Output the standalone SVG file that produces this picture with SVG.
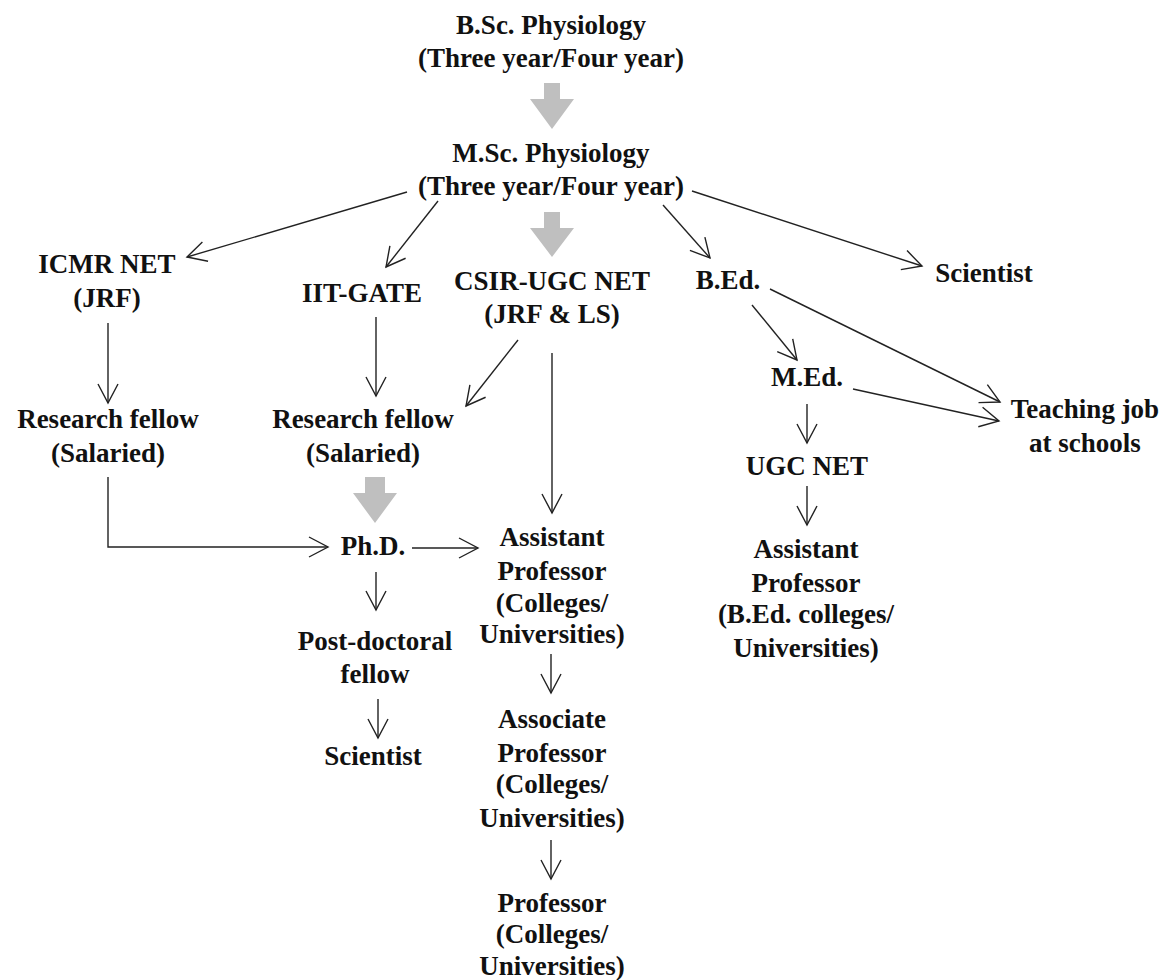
<svg xmlns="http://www.w3.org/2000/svg" width="1170" height="980" viewBox="0 0 1170 980">
<style>
text{font-family:"Liberation Serif","Times New Roman",serif;font-weight:bold;font-size:27px;fill:#111;text-anchor:middle}
.c{fill:none;stroke:#222;stroke-width:1.4}
.g{fill:#bfbfbf;stroke:none}
</style>
<defs>
<marker id="ah" markerUnits="userSpaceOnUse" markerWidth="24" markerHeight="24" viewBox="-22 -12 24 24" refX="0" refY="0" orient="auto" overflow="visible">
<path d="M-19,-10 L0,0 L-19,10" fill="none" stroke="#222" stroke-width="1.4"/>
</marker>
</defs>
<rect width="1170" height="980" fill="#fff"/>
<g id="bigarrows">
<polygon class="g" points="544,83 560,83 560,99 574,99 552,129 530,99 544,99"/>
<polygon class="g" points="544,212 560,212 560,228 574,228 552,257 530,228 544,228"/>
<polygon class="g" points="365,477 385,477 385,493 397,493 375,523 353,493 365,493"/>
</g>
<g id="connectors">
<line class="c" x1="407" y1="192" x2="187" y2="257" marker-end="url(#ah)"/>
<line class="c" x1="438" y1="201" x2="386" y2="267" marker-end="url(#ah)"/>
<line class="c" x1="663" y1="205" x2="710" y2="258" marker-end="url(#ah)"/>
<line class="c" x1="692" y1="191" x2="922" y2="266" marker-end="url(#ah)"/>
<line class="c" x1="108" y1="323" x2="108" y2="403" marker-end="url(#ah)"/>
<line class="c" x1="376" y1="317" x2="376" y2="396" marker-end="url(#ah)"/>
<line class="c" x1="518" y1="340" x2="466" y2="406" marker-end="url(#ah)"/>
<line class="c" x1="552" y1="353" x2="552" y2="513" marker-end="url(#ah)"/>
<line class="c" x1="770" y1="289" x2="1000" y2="402" marker-end="url(#ah)"/>
<line class="c" x1="752" y1="305" x2="797" y2="360" marker-end="url(#ah)"/>
<line class="c" x1="853" y1="389" x2="999" y2="421" marker-end="url(#ah)"/>
<line class="c" x1="807" y1="404" x2="807" y2="443" marker-end="url(#ah)"/>
<line class="c" x1="807" y1="486" x2="807" y2="525" marker-end="url(#ah)"/>
<polyline class="c" points="108,477 108,547 328,547" marker-end="url(#ah)"/>
<line class="c" x1="412" y1="548" x2="478" y2="548" marker-end="url(#ah)"/>
<line class="c" x1="376" y1="572" x2="376" y2="610" marker-end="url(#ah)"/>
<line class="c" x1="378" y1="699" x2="378" y2="738" marker-end="url(#ah)"/>
<line class="c" x1="551" y1="654" x2="551" y2="693" marker-end="url(#ah)"/>
<line class="c" x1="551" y1="840" x2="551" y2="879" marker-end="url(#ah)"/>
</g>
<g id="bsc"><text x="551" y="34">B.Sc. Physiology</text><text x="551" y="67">(Three year/Four year)</text></g>
<g id="msc"><text x="551" y="162">M.Sc. Physiology</text><text x="551" y="195">(Three year/Four year)</text></g>
<g id="icmr"><text x="107" y="273">ICMR NET</text><text x="107" y="307">(JRF)</text></g>
<g id="iit"><text x="362" y="302">IIT-GATE</text></g>
<g id="csir"><text x="552" y="290">CSIR-UGC NET</text><text x="552" y="323">(JRF &amp; LS)</text></g>
<g id="bed"><text x="728" y="289">B.Ed.</text></g>
<g id="scientist1"><text x="984" y="282">Scientist</text></g>
<g id="rf1"><text x="108" y="428">Research fellow</text><text x="108" y="462">(Salaried)</text></g>
<g id="rf2"><text x="363" y="428">Research fellow</text><text x="363" y="462">(Salaried)</text></g>
<g id="med"><text x="807" y="386">M.Ed.</text></g>
<g id="teaching"><text x="1085" y="418">Teaching job</text><text x="1085" y="452">at schools</text></g>
<g id="ugcnet"><text x="807" y="475">UGC NET</text></g>
<g id="phd"><text x="373" y="555">Ph.D.</text></g>
<g id="asst1"><text x="552" y="546">Assistant</text><text x="552" y="580">Professor</text><text x="552" y="612">(Colleges/</text><text x="552" y="643">Universities)</text></g>
<g id="asst2"><text x="806" y="558">Assistant</text><text x="806" y="592">Professor</text><text x="806" y="623">(B.Ed. colleges/</text><text x="806" y="657">Universities)</text></g>
<g id="postdoc"><text x="375" y="650">Post-doctoral</text><text x="375" y="683">fellow</text></g>
<g id="scientist2"><text x="373" y="765">Scientist</text></g>
<g id="assoc"><text x="552" y="728">Associate</text><text x="552" y="762">Professor</text><text x="552" y="793">(Colleges/</text><text x="552" y="827">Universities)</text></g>
<g id="prof"><text x="552" y="912">Professor</text><text x="552" y="943">(Colleges/</text><text x="552" y="975">Universities)</text></g>
</svg>
